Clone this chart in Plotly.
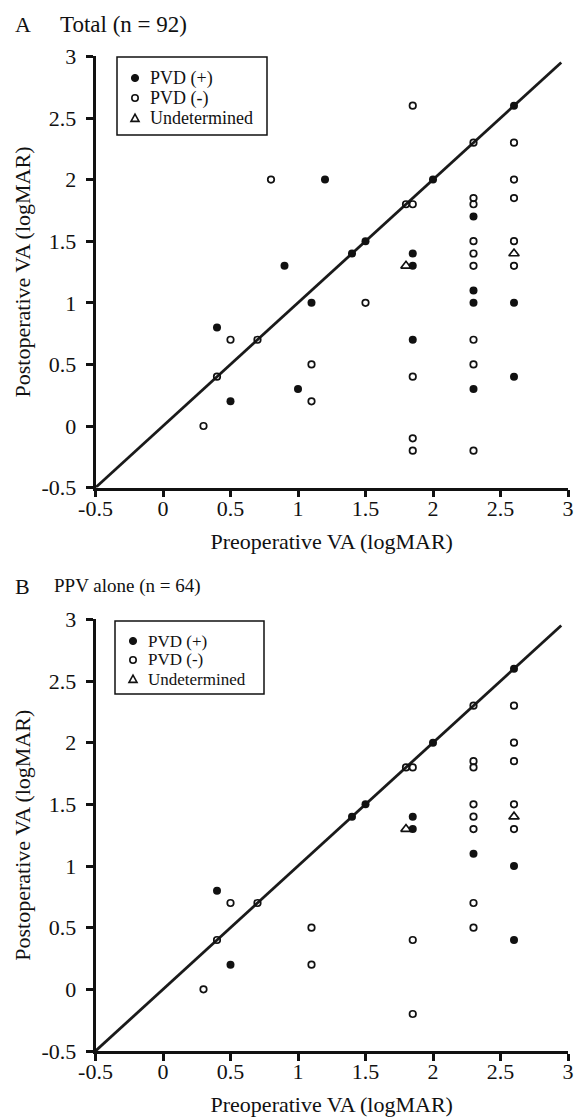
import plotly.graph_objects as go

# ---- Panel A: Total (n = 92) ----
a_pos_x = [0.4, 0.5, 0.9, 1.0, 1.1, 1.2, 1.4, 1.5, 2.0, 2.6, 1.85, 1.85, 1.85,
           2.3, 2.3, 2.3, 2.3, 2.6, 2.6]
a_pos_y = [0.8, 0.2, 1.3, 0.3, 1.0, 2.0, 1.4, 1.5, 2.0, 2.6, 1.4, 1.3, 0.7,
           1.7, 1.1, 1.0, 0.3, 1.0, 0.4]

a_neg_x = [0.3, 0.4, 0.5, 0.7, 0.8, 1.1, 1.1, 1.5, 1.8, 1.85, 1.85, 1.85, 1.85, 1.85,
           2.3, 2.3, 2.3, 2.3, 2.3, 2.3, 2.3, 2.3, 2.3, 2.6, 2.6, 2.6, 2.6, 2.6]
a_neg_y = [0.0, 0.4, 0.7, 0.7, 2.0, 0.5, 0.2, 1.0, 1.8, 1.8, 2.6, 0.4, -0.1, -0.2,
           2.3, 1.85, 1.8, 1.5, 1.4, 1.3, 0.7, 0.5, -0.2, 2.3, 2.0, 1.85, 1.5, 1.3]

a_und_x = [1.8, 2.6]
a_und_y = [1.3, 1.4]

# ---- Panel B: PPV alone (n = 64) ----
b_pos_x = [0.4, 0.5, 1.4, 1.5, 2.0, 2.6, 1.85, 1.85, 2.3, 2.6, 2.6]
b_pos_y = [0.8, 0.2, 1.4, 1.5, 2.0, 2.6, 1.4, 1.3, 1.1, 1.0, 0.4]

b_neg_x = [0.3, 0.4, 0.5, 0.7, 1.1, 1.1, 1.8, 1.85, 1.85, 1.85,
           2.3, 2.3, 2.3, 2.3, 2.3, 2.3, 2.3, 2.3, 2.6, 2.6, 2.6, 2.6, 2.6]
b_neg_y = [0.0, 0.4, 0.7, 0.7, 0.5, 0.2, 1.8, 1.8, 0.4, -0.2,
           2.3, 1.85, 1.8, 1.5, 1.4, 1.3, 0.7, 0.5, 2.3, 2.0, 1.85, 1.5, 1.3]

b_und_x = [1.8, 2.6]
b_und_y = [1.3, 1.4]

# identity line (pre = post)
identity = [-0.5, 2.95]

tick_vals = [-0.5, 0, 0.5, 1, 1.5, 2, 2.5, 3]
tick_labels = ["-0.5", "0", "0.5", "1", "1.5", "2", "2.5", "3"]

group_names = ["PVD (+)", "PVD (-)", "Undetermined"]

W, H = 574, 1119
SERIF = "Liberation Serif, Times New Roman, serif"
INK = "#111111"


def fx(p):
    return p / W


def fy(p):
    return 1 - p / H


fig = go.Figure()


def add_panel(xa, ya, pos, neg, und):
    fig.add_trace(go.Scatter(
        x=identity, y=identity, mode="lines",
        line=dict(color="#1a1a1a", width=2.8),
        xaxis=xa, yaxis=ya, showlegend=False, hoverinfo="skip"))
    fig.add_trace(go.Scatter(
        x=pos[0], y=pos[1], mode="markers", name=group_names[0],
        marker=dict(symbol="circle", size=8, color=INK),
        xaxis=xa, yaxis=ya, showlegend=False))
    fig.add_trace(go.Scatter(
        x=neg[0], y=neg[1], mode="markers", name=group_names[1],
        marker=dict(symbol="circle-open", size=6.5, color=INK,
                    line=dict(width=1.7)),
        xaxis=xa, yaxis=ya, showlegend=False))
    fig.add_trace(go.Scatter(
        x=und[0], y=und[1], mode="markers", name=group_names[2],
        marker=dict(symbol="triangle-up-open", size=9, color=INK,
                    line=dict(width=1.7)),
        xaxis=xa, yaxis=ya, showlegend=False))


add_panel("x", "y", (a_pos_x, a_pos_y), (a_neg_x, a_neg_y), (a_und_x, a_und_y))
add_panel("x2", "y2", (b_pos_x, b_pos_y), (b_neg_x, b_neg_y), (b_und_x, b_und_y))


def key_box(left, top, right, bottom, key_x, rows, text_x, size):
    """Boxed key: filled circle, open circle, open triangle with labels."""
    fig.add_shape(type="rect", xref="paper", yref="paper",
                  x0=fx(left), x1=fx(right), y0=fy(bottom), y1=fy(top),
                  line=dict(color=INK, width=1.5), fillcolor="white", layer="above")
    r = 3.6
    fig.add_shape(type="circle", xref="paper", yref="paper",
                  x0=fx(key_x - r), x1=fx(key_x + r),
                  y0=fy(rows[0] + r), y1=fy(rows[0] - r),
                  line=dict(color=INK, width=1), fillcolor=INK, layer="above")
    r = 3.2
    fig.add_shape(type="circle", xref="paper", yref="paper",
                  x0=fx(key_x - r), x1=fx(key_x + r),
                  y0=fy(rows[1] + r), y1=fy(rows[1] - r),
                  line=dict(color=INK, width=1.6), fillcolor="white", layer="above")
    h = 4.0
    tri = (f"M {fx(key_x - h)} {fy(rows[2] + h * 0.85)} "
           f"L {fx(key_x + h)} {fy(rows[2] + h * 0.85)} "
           f"L {fx(key_x)} {fy(rows[2] - h * 0.95)} Z")
    fig.add_shape(type="path", xref="paper", yref="paper", path=tri,
                  line=dict(color=INK, width=1.6), fillcolor="white", layer="above")
    for name, ry in zip(group_names, rows):
        fig.add_annotation(text=name, xref="paper", yref="paper",
                           x=fx(text_x), y=fy(ry), xanchor="left", yanchor="middle",
                           showarrow=False, borderpad=0,
                           font=dict(family=SERIF, size=size, color=INK))


key_box(117, 57, 267, 135, 135, [78, 98, 118], 149, 18)
key_box(115, 621, 264, 694, 133, [641, 660, 679], 147, 17)

axis_common = dict(
    range=[-0.5, 3], tickmode="array", tickvals=tick_vals, ticktext=tick_labels,
    showline=True, linecolor=INK, linewidth=2.6, mirror=False,
    ticks="outside", ticklen=7, tickwidth=2.6, tickcolor=INK,
    showgrid=False, zeroline=False, automargin=False, fixedrange=True,
    tickfont=dict(family=SERIF, size=22, color=INK),
)

x_dom = [fx(95.5), fx(568)]
x_title = dict(text="Preoperative VA (logMAR)", standoff=14,
               font=dict(family=SERIF, size=22))
y_title = dict(text="Postoperative VA (logMAR)", standoff=5,
               font=dict(family=SERIF, size=22))

fig.update_layout(
    width=W, height=H,
    margin=dict(l=0, r=0, t=0, b=0),
    paper_bgcolor="white", plot_bgcolor="white",
    font=dict(family=SERIF, color=INK),
    showlegend=False,
    xaxis=dict(axis_common, domain=x_dom, anchor="y", ticklabelstandoff=-8,
               title=x_title),
    yaxis=dict(axis_common, domain=[fy(487.6), fy(56.4)], anchor="x",
               ticklabelstandoff=5, title=y_title),
    xaxis2=dict(axis_common, domain=x_dom, anchor="y2", ticklabelstandoff=-8,
                title=x_title),
    yaxis2=dict(axis_common, domain=[fy(1051), fy(619.4)], anchor="x2",
                ticklabelstandoff=5, title=y_title),
)

panel_labels = [
    ("A", 13, 24, 22), ("Total (n = 92)", 58, 24, 23),
    ("B", 13, 586, 22), ("PPV alone (n = 64)", 52, 586, 19),
]
for text, px, py, size in panel_labels:
    fig.add_annotation(text=text, xref="paper", yref="paper", x=fx(px), y=fy(py),
                       xanchor="left", yanchor="middle", showarrow=False,
                       font=dict(family=SERIF, size=size, color=INK))

fig.write_html("out.html")
